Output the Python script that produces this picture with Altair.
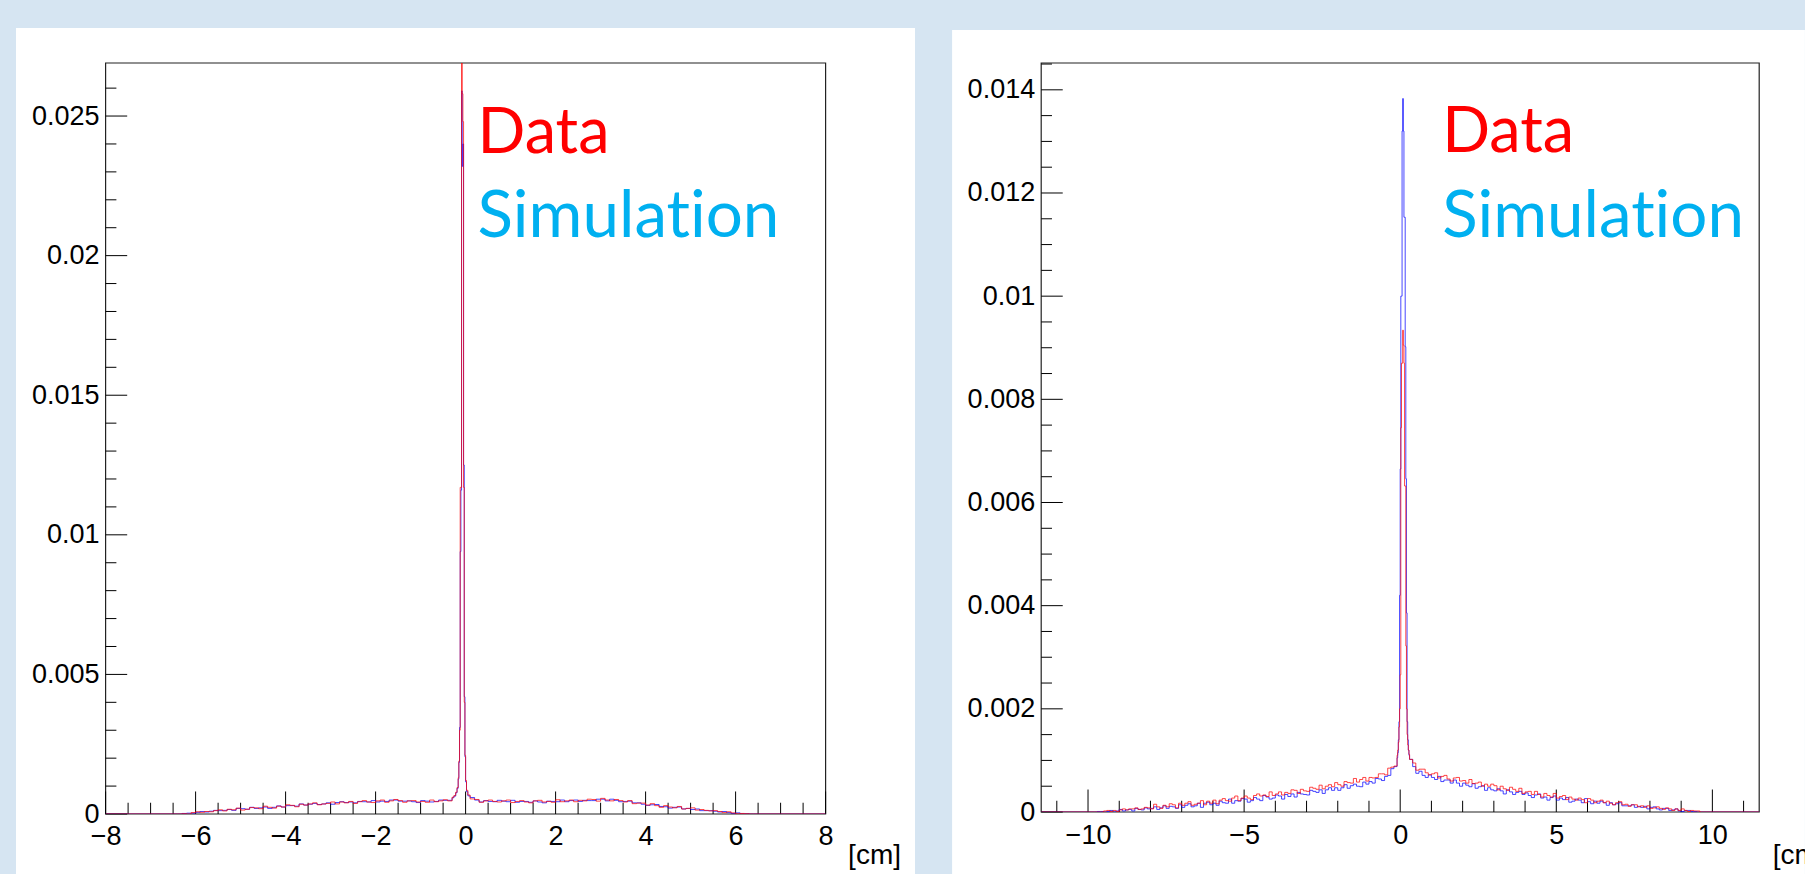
import pandas as pd
import altair as alt

# ---------------- values (normalised counts, in units of 1e-5) ----------------
# LEFT panel: broad part, bins of 0.1 cm, left edges from -6.4 to -0.4
L_DATA_NEG = [0, 1, 0, 5, 8, 6, 9, 8, 12, 15,
              11, 17, 15, 21, 14, 17, 23, 22, 19, 28,
              24, 21, 28, 25, 33, 31, 26, 35, 32, 36,
              40, 33, 36, 38, 43, 36, 43, 40, 45, 38,
              44, 48, 43, 41, 47, 50, 42, 47, 52, 48,
              42, 47, 48, 43, 45, 42, 50, 44, 47, 51,
              47]
L_SIM_NEG = [0, 2, 3, 3, 6, 9, 7, 10, 13, 12,
             13, 16, 13, 20, 19, 17, 24, 20, 22, 25,
             20, 24, 29, 25, 30, 30, 28, 36, 32, 35,
             38, 34, 36, 40, 35, 41, 44, 41, 43, 40,
             45, 44, 43, 48, 43, 46, 45, 50, 50, 46,
             46, 47, 44, 41, 48, 46, 43, 45, 50, 49,
             49]
# LEFT panel: peak region, variable bins
L_PEAK_EDGES = [-0.30, -0.26, -0.22, -0.19, -0.165, -0.15, -0.135, -0.12, -0.105, -0.09,
                -0.075, -0.06, -0.045, -0.03, -0.015, 0.0, 0.02, 0.05, 0.10]
L_DATA_PEAK = [60, 66, 78, 95, 130, 190, 300, 1170, 1170, 2800, 2580, 2480, 1170, 400, 210, 120, 85, 68]
L_SIM_PEAK = [58, 64, 76, 92, 125, 185, 310, 940, 1160, 2590, 2320, 2400, 1250, 420, 205, 115, 80, 65]
# LEFT panel: broad part, bins of 0.1 cm, left edges from 0.1 to 6.3
L_DATA_POS = [54, 52, 42, 47, 50, 45, 43, 47, 50, 41,
              45, 48, 43, 40, 47, 49, 43, 45, 42, 51,
              44, 47, 50, 44, 49, 47, 53, 52, 46, 56,
              50, 47, 52, 48, 43, 48, 37, 39, 39, 32,
              37, 30, 24, 30, 25, 22, 27, 18, 20, 22,
              14, 16, 13, 11, 12, 9, 5, 8, 4, 1,
              2, 1, 0]
L_SIM_POS = [59, 50, 43, 48, 45, 44, 49, 46, 44, 49,
             42, 45, 45, 42, 47, 43, 40, 46, 45, 44,
             50, 44, 48, 50, 45, 49, 48, 48, 53, 53,
             47, 53, 49, 44, 45, 46, 40, 40, 35, 31,
             33, 34, 27, 26, 21, 24, 25, 18, 20, 16,
             18, 12, 12, 12, 10, 7, 9, 5, 2, 4,
             1, 1, 0]

# RIGHT panel: broad part, bins of 0.1 cm, left edges from -9.8 to -0.2
R_DATA_NEG = [0, 0, 0, 2, 3, 1, 3, 1,
              4, 6, 4, 6, 6, 8, 5, 6, 9, 8,
              6, 15, 10, 7, 13, 10, 16, 14, 8, 17,
              13, 17, 20, 13, 15, 17, 22, 14, 21, 17,
              23, 16, 23, 26, 22, 21, 27, 31, 22, 27,
              31, 27, 24, 32, 35, 31, 33, 30, 39, 32,
              35, 39, 33, 38, 36, 43, 42, 36, 44, 41,
              40, 48, 46, 44, 52, 45, 50, 53, 49, 57,
              53, 50, 59, 57, 56, 65, 58, 63, 67, 60,
              67, 66, 67, 74, 74, 72, 85, 87, 89]
R_SIM_NEG = [0, 1, 1, 0, 1, 3, 0, 2,
             5, 2, 4, 5, 2, 7, 5, 4, 8, 6,
             7, 10, 5, 8, 12, 7, 11, 10, 7, 14,
             9, 13, 16, 10, 12, 17, 9, 17, 19, 14,
             17, 13, 21, 18, 17, 25, 17, 22, 21, 26,
             25, 19, 22, 28, 25, 22, 32, 29, 25, 27,
             33, 31, 25, 34, 30, 35, 29, 38, 35, 34,
             33, 42, 40, 38, 43, 36, 43, 47, 42, 47,
             42, 47, 53, 46, 51, 54, 50, 49, 58, 54,
             59, 56, 65, 64, 61, 69, 71, 84, 88]
# RIGHT panel: peak region, bins of 0.02 cm
R_PEAK_EDGES = [-0.10, -0.08, -0.06, -0.04, -0.02, 0.0, 0.02, 0.04, 0.06, 0.08, 0.10,
                0.12, 0.14, 0.16, 0.18, 0.20, 0.22, 0.24, 0.26, 0.28, 0.30]
R_DATA_PEAK = [110, 120, 135, 165, 200, 266, 745, 870, 870, 934, 905, 870, 632, 632, 322, 200, 150, 130, 120, 112]
R_SIM_PEAK = [105, 115, 140, 175, 420, 665, 1000, 1000, 1320, 1383, 1320, 1153, 1153, 902, 646, 386, 175, 140, 120, 110]
# RIGHT panel: broad part, bins of 0.1 cm, left edges from 0.3 to 9.7
R_DATA_POS = [102, 95, 81, 83, 83, 76, 72, 74, 76, 66,
              69, 71, 64, 60, 66, 67, 60, 61, 56, 63,
              55, 56, 58, 50, 54, 50, 54, 51, 43, 50,
              45, 42, 48, 44, 40, 46, 36, 39, 40, 34,
              40, 34, 29, 36, 32, 29, 36, 27, 30, 32,
              24, 29, 25, 23, 27, 24, 18, 26, 23, 18,
              21, 23, 18, 21, 17, 14, 18, 20, 14, 15,
              11, 14, 14, 10, 12, 9, 12, 7, 8, 10,
              7, 5, 8, 6, 3, 6, 3, 6, 3, 1,
              3, 2, 2, 0, 0]
R_SIM_POS = [102, 88, 75, 79, 71, 67, 72, 67, 63, 69,
             59, 62, 62, 56, 62, 56, 50, 56, 52, 49,
             55, 46, 49, 51, 42, 47, 43, 41, 45, 41,
             35, 43, 39, 34, 38, 40, 34, 37, 32, 28,
             33, 35, 27, 29, 23, 28, 31, 23, 27, 24,
             28, 19, 21, 25, 23, 18, 26, 20, 16, 21,
             17, 21, 18, 13, 18, 14, 16, 18, 12, 12,
             12, 14, 9, 11, 9, 11, 6, 9, 10, 6,
             4, 7, 7, 3, 4, 6, 2, 1, 3, 3,
             1, 1, 0, 0, 0]

# axis ticks
L_XTICK_MAJOR = [-8, -6, -4, -2, 0, 2, 4, 6, 8]
L_XTICK_MINOR = [-7.5, -7, -6.5, -5.5, -5, -4.5, -3.5, -3, -2.5, -1.5, -1, -0.5,
                 0.5, 1, 1.5, 2.5, 3, 3.5, 4.5, 5, 5.5, 6.5, 7, 7.5]
L_YTICK_MAJOR = [0, 0.005, 0.01, 0.015, 0.02, 0.025]
L_YTICK_MINOR = [0.001, 0.002, 0.003, 0.004, 0.006, 0.007, 0.008, 0.009, 0.011, 0.012, 0.013,
                 0.014, 0.016, 0.017, 0.018, 0.019, 0.021, 0.022, 0.023, 0.024, 0.026]
R_XTICK_MAJOR = [-10, -5, 0, 5, 10]
R_XTICK_MINOR = [-11, -9, -8, -7, -6, -4, -3, -2, -1, 1, 2, 3, 4, 6, 7, 8, 9, 11]
R_YTICK_MAJOR = [0, 0.002, 0.004, 0.006, 0.008, 0.01, 0.012, 0.014]
R_YTICK_MINOR = [0.0005, 0.001, 0.0015, 0.0025, 0.003, 0.0035, 0.0045, 0.005, 0.0055,
                 0.0065, 0.007, 0.0075, 0.0085, 0.009, 0.0095, 0.0105, 0.011, 0.0115,
                 0.0125, 0.013, 0.0135, 0.0145]

# "ti" kept apart with a zero-width non-joiner so no ligature is formed
LABELS = ["Data", "Simulat\u200cion"]
X_TITLE = "[cm]"


def steps(edges, vals):
    ys = [v * 1e-5 for v in vals] + [vals[-1] * 1e-5]
    return pd.DataFrame({"x": edges, "y": ys})


L_NEG_LEFTS = [round(-6.4 + 0.1 * i, 2) for i in range(len(L_DATA_NEG))]
L_POS_LEFTS = [round(0.1 + 0.1 * i, 2) for i in range(len(L_DATA_POS))]
L_EDGES = [-8.0] + L_NEG_LEFTS + L_PEAK_EDGES[:-1] + L_POS_LEFTS + [6.4, 8.0]
L_data = steps(L_EDGES, [0] + L_DATA_NEG + L_DATA_PEAK + L_DATA_POS + [0])
L_sim = steps(L_EDGES, [0] + L_SIM_NEG + L_SIM_PEAK + L_SIM_POS + [0])

R_NEG_LEFTS = [round(-9.8 + 0.1 * i, 2) for i in range(len(R_DATA_NEG))]
R_POS_LEFTS = [round(0.3 + 0.1 * i, 2) for i in range(len(R_DATA_POS))]
R_EDGES = [-11.5] + R_NEG_LEFTS + R_PEAK_EDGES[:-1] + R_POS_LEFTS + [9.8, 11.5]
R_data = steps(R_EDGES, [0] + R_DATA_NEG + R_DATA_PEAK + R_DATA_POS + [0])
R_sim = steps(R_EDGES, [0] + R_SIM_NEG + R_SIM_PEAK + R_SIM_POS + [0])

FONT = "Liberation Sans"
TXT_FONT = "Lato"


def panel(W, H, xdom, ydom, xmaj, xmin, ymaj, ymin, data_df, sim_df, bg,
          txt_x, txt_y, title_dx, title_dy, xlabpad):
    xs = alt.Scale(domain=xdom, zero=False, nice=False)
    ys = alt.Scale(domain=ydom, zero=False, nice=False)
    one = pd.DataFrame({"k": [0]})

    xaxis = alt.Axis(values=xmaj, format=".4~f", labelFont=FONT, labelFontSize=27,
                     labelColor="black", labelPadding=xlabpad, labelFlush=False,
                     labelOverlap=False, ticks=False, tickSize=0, domain=False, grid=False,
                     title=X_TITLE, titleX=W + title_dx, titleY=title_dy, titleAlign="left",
                     titleBaseline="alphabetic", titleFont=FONT, titleFontSize=28,
                     titleFontWeight="normal", titleColor="black", zindex=1)
    yaxis = alt.Axis(values=ymaj, format=".4~f", labelFont=FONT, labelFontSize=27,
                     labelColor="black", labelPadding=6.5, labelFlush=False,
                     labelOverlap=False, ticks=False, tickSize=0, domain=False, grid=False,
                     title="", zindex=1)

    white = alt.Chart(one).mark_rect(fill="white").encode(
        x=alt.value(bg[0]), x2=alt.value(bg[1]), y=alt.value(bg[2]), y2=alt.value(bg[3]))
    frame = alt.Chart(one).mark_rect(filled=False, stroke="#222222", strokeWidth=1.2).encode(
        x=alt.value(0), x2=alt.value(W), y=alt.value(0), y2=alt.value(H))

    xl = 0.03 * H
    yl = 0.03 * W
    xt1 = alt.Chart(pd.DataFrame({"v": xmaj})).mark_rule(color="black", strokeWidth=1).encode(
        x=alt.X("v:Q", scale=xs, axis=xaxis), y=alt.value(H), y2=alt.value(H - xl))
    xt2 = alt.Chart(pd.DataFrame({"v": xmin})).mark_rule(color="black", strokeWidth=1).encode(
        x=alt.X("v:Q", scale=xs, axis=xaxis), y=alt.value(H), y2=alt.value(H - xl / 2))
    yt1 = alt.Chart(pd.DataFrame({"v": ymaj})).mark_rule(color="black", strokeWidth=1).encode(
        y=alt.Y("v:Q", scale=ys, axis=yaxis), x=alt.value(0), x2=alt.value(yl))
    yt2 = alt.Chart(pd.DataFrame({"v": ymin})).mark_rule(color="black", strokeWidth=1).encode(
        y=alt.Y("v:Q", scale=ys, axis=yaxis), x=alt.value(0), x2=alt.value(yl / 2))

    def hist(df, color):
        return alt.Chart(df).mark_line(interpolate="step-after", color=color, strokeWidth=1,
                                       opacity=0.72, clip=True).encode(
            x=alt.X("x:Q", scale=xs, axis=xaxis),
            y=alt.Y("y:Q", scale=ys, axis=yaxis))

    t1 = alt.Chart(one).mark_text(text=LABELS[0], font=TXT_FONT, fontSize=63, color="#ff0000",
                                  align="left", baseline="alphabetic").encode(
        x=alt.value(txt_x), y=alt.value(txt_y[0]))
    t2 = alt.Chart(one).mark_text(text=LABELS[1], font=TXT_FONT, fontSize=65.5, color="#00b0f0",
                                  align="left", baseline="alphabetic").encode(
        x=alt.value(txt_x), y=alt.value(txt_y[1]))

    return alt.layer(white, frame, xt1, xt2, yt1, yt2,
                     hist(sim_df, "#0000ff"), hist(data_df, "#ff0000"), t1, t2).properties(
        width=W, height=H)


left = panel(720, 751, [-8, 8], [0, 0.0269], L_XTICK_MAJOR, L_XTICK_MINOR,
             L_YTICK_MAJOR, L_YTICK_MINOR, L_data, L_sim,
             (-89.6, 809.4, -35, 811), 372, (90.3, 174), 22, 49, 9)
right = panel(718, 749, [-11.5, 11.5], [0, 0.01452], R_XTICK_MAJOR, R_XTICK_MINOR,
              R_YTICK_MAJOR, R_YTICK_MINOR, R_data, R_sim,
              (-89.1, 763.7, -33, 811), 401, (88.6, 174), 13, 51, 10)

# fixed page: the first plot area starts at (105.6, 63); the page is 1805 x 874
chart = alt.hconcat(left, right, spacing=215.6, bounds="flush").properties(
    autosize=alt.AutoSizeParams(type="none"),
    padding={"left": 105.6, "top": 63, "right": 1699.4, "bottom": 811},
    background="#d6e5f2",
).configure_view(strokeWidth=0)

chart.save("out.html", embed_options={"renderer": "svg", "actions": False})
